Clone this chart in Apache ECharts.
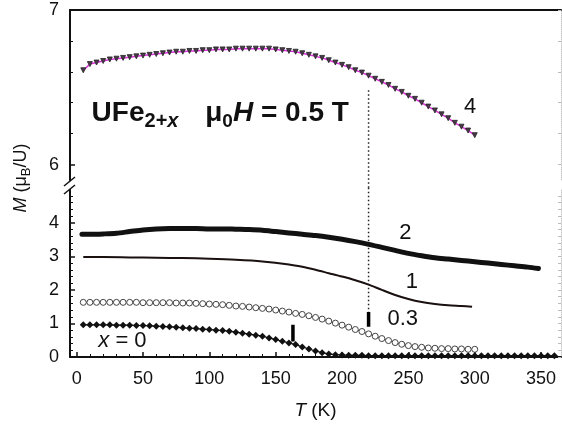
<!DOCTYPE html>
<html>
<head>
<meta charset="utf-8">
<script src="https://cdn.jsdelivr.net/npm/echarts@6/dist/echarts.min.js"></script>
<style>
  html, body { margin: 0; padding: 0; background: #fff; }
  #chart { width: 562px; height: 429px; }
</style>
</head>
<body>
<div id="chart"></div>
<script>
// Magnetization of UFe(2+x) at mu0H = 0.5 T versus temperature.

// Shared temperature grid (K) for x = 4 and x = 0.3
const tempA = [5, 10, 15, 20, 25, 30, 35, 40, 45, 50, 55, 60, 65, 70, 75, 80, 85, 90, 95, 100,
  105, 110, 115, 120, 125, 130, 135, 140, 145, 150, 155, 160, 165, 170, 175, 180, 185, 190, 195, 200,
  205, 210, 215, 220, 225, 230, 235, 240, 245, 250, 255, 260, 265, 270, 275, 280, 285, 290, 295, 300];

// x = 4 (upper panel), muB/U
const magX4 = [6.61, 6.65, 6.66, 6.67, 6.68, 6.685, 6.69, 6.695, 6.70, 6.705, 6.71, 6.715, 6.72, 6.725, 6.73, 6.73, 6.735, 6.735, 6.74, 6.74,
  6.745, 6.745, 6.745, 6.75, 6.75, 6.75, 6.75, 6.75, 6.75, 6.745, 6.74, 6.735, 6.73, 6.72, 6.71, 6.70, 6.69, 6.675, 6.66, 6.645,
  6.63, 6.61, 6.595, 6.575, 6.555, 6.535, 6.515, 6.49, 6.47, 6.445, 6.425, 6.40, 6.375, 6.35, 6.325, 6.30, 6.27, 6.245, 6.22, 6.19];

// x = 0.3
const magX03 = [1.63, 1.63, 1.63, 1.63, 1.63, 1.63, 1.63, 1.63, 1.63, 1.62, 1.62, 1.62, 1.62, 1.62, 1.61, 1.61, 1.61, 1.60, 1.59, 1.58,
  1.57, 1.56, 1.54, 1.52, 1.51, 1.49, 1.47, 1.45, 1.43, 1.40, 1.37, 1.34, 1.30, 1.27, 1.23, 1.18, 1.13, 1.07, 1.01, 0.95,
  0.89, 0.82, 0.76, 0.69, 0.62, 0.55, 0.49, 0.43, 0.38, 0.34, 0.31, 0.29, 0.27, 0.26, 0.25, 0.25, 0.24, 0.24, 0.23, 0.23];

// x = 0
const tempB = [5, 10, 15, 20, 25, 30, 35, 40, 45, 50, 55, 60, 65, 70, 75, 80, 85, 90, 95, 100,
  105, 110, 115, 120, 125, 130, 135, 140, 145, 150, 155, 160, 165, 170, 175, 180, 185, 190, 195, 200,
  205, 210, 215, 220, 225, 230, 235, 240, 245, 250, 255, 260, 265, 270, 275, 280, 285, 290, 295, 300,
  305, 310, 315, 320, 325, 330, 335, 340, 345, 350, 355, 360];
const magX0 = [0.96, 0.96, 0.96, 0.96, 0.96, 0.95, 0.95, 0.95, 0.94, 0.94, 0.93, 0.92, 0.91, 0.90, 0.89, 0.87, 0.86, 0.85, 0.83, 0.82,
  0.80, 0.79, 0.77, 0.74, 0.71, 0.68, 0.65, 0.62, 0.57, 0.52, 0.47, 0.42, 0.37, 0.30, 0.24, 0.18, 0.13, 0.09, 0.07, 0.06,
  0.05, 0.05, 0.05, 0.04, 0.04, 0.04, 0.04, 0.04, 0.04, 0.04, 0.04, 0.04, 0.04, 0.04, 0.04, 0.04, 0.04, 0.04, 0.04, 0.04,
  0.04, 0.04, 0.04, 0.04, 0.04, 0.04, 0.04, 0.04, 0.04, 0.04, 0.04, 0.04];

// x = 2
const temp2 = [4, 10, 20, 30, 40, 50, 60, 70, 80, 90, 100, 110, 120, 130, 140, 150, 160, 170, 180, 190,
  200, 210, 220, 230, 240, 250, 260, 270, 280, 290, 300, 310, 320, 330, 340, 348];
const magX2 = [3.66, 3.66, 3.67, 3.69, 3.74, 3.79, 3.82, 3.83, 3.83, 3.83, 3.82, 3.82, 3.81, 3.80, 3.78, 3.74, 3.70, 3.66, 3.62, 3.57,
  3.51, 3.44, 3.36, 3.27, 3.18, 3.09, 3.02, 2.96, 2.92, 2.88, 2.84, 2.80, 2.76, 2.72, 2.68, 2.64];

// x = 1
const temp1 = [5, 20, 40, 60, 80, 100, 120, 140, 160, 170, 180, 190, 200, 210, 220, 230, 240, 250, 260, 270, 280, 290, 298];
const magX1 = [2.98, 2.98, 2.97, 2.96, 2.95, 2.93, 2.90, 2.85, 2.76, 2.69, 2.60, 2.50, 2.40, 2.29, 2.16, 2.00, 1.85, 1.73, 1.64, 1.58, 1.54, 1.52, 1.50];

// Transition markers: short bars and the dotted guide at 220 K
const onsetT = [163, 220];
const onsetLow = [0.46, 0.90];
const onsetHigh = [0.96, 1.34];
const guideTop = 6.48;

// Tick values
const xMajor = [0, 50, 100, 150, 200, 250, 300, 350];
const xMinor = [10, 20, 30, 40, 60, 70, 80, 90, 110, 120, 130, 140, 160, 170, 180, 190, 210, 220, 230, 240,
  260, 270, 280, 290, 310, 320, 330, 340, 360];
const upMajor = [6, 7];
const upMinor = [6.2, 6.4, 6.6, 6.8];
const lowMajor = [0, 1, 2, 3, 4];
const lowMinor = [0.2, 0.4, 0.6, 0.8, 1.2, 1.4, 1.6, 1.8, 2.2, 2.4, 2.6, 2.8, 3.2, 3.4, 3.6, 3.8, 4.2, 4.4, 4.6, 4.8];

const pts = (t, m) => t.map((v, i) => [v, m[i]]);

const FONT = "'Liberation Sans', Arial, sans-serif";
const INK = '#111';

const chart = echarts.init(document.getElementById('chart'), null, { renderer: 'canvas' });

function tempAxis(grid, extra) {
  return Object.assign({
    type: 'value', gridIndex: grid, min: -5, max: 365,
    splitLine: { show: false },
    axisLine: { show: false, onZero: false },
    axisTick: { show: false },
    axisLabel: { show: false }
  }, extra);
}
function magAxis(grid, lo, hi, extra) {
  return Object.assign({
    type: 'value', gridIndex: grid, min: lo, max: hi,
    splitLine: { show: false },
    axisLine: { show: false, onZero: false },
    axisTick: { show: false },
    axisLabel: { show: false }
  }, extra);
}

const labelStyle = { fontFamily: FONT, fontSize: 18, color: INK };
const curveLabel = (coord, text) => ({
  coord: coord, value: text,
  label: {
    show: true, position: 'inside', formatter: text,
    fontFamily: FONT, fontSize: 22, color: INK,
    rich: { i: { fontFamily: FONT, fontSize: 22, fontStyle: 'italic', color: INK } }
  }
});
const labelPoint = (items) => ({
  symbol: 'circle', symbolSize: 1, silent: true,
  itemStyle: { color: 'rgba(0,0,0,0)' },
  data: items
});

const option = {
  animation: false,
  backgroundColor: '#fff',
  grid: [
    { left: 70, right: 1, top: 10, height: 170 },
    { left: 70, right: 1, top: 190, height: 167 }
  ],
  xAxis: [
    // lower panel: main temperature axis
    tempAxis(1, {
      position: 'bottom',
      axisLine: { show: true, onZero: false, lineStyle: { color: INK, width: 2 } },
      axisTick: { show: true, inside: true, length: 5, customValues: xMajor, lineStyle: { color: INK, width: 1.5 } },
      axisLabel: Object.assign({ show: true, margin: 13, customValues: xMajor }, labelStyle),
      name: '{i|T} (K)', nameLocation: 'middle', nameGap: 44,
      nameTextStyle: {
        fontFamily: FONT, fontSize: 19, color: INK,
        rich: { i: { fontFamily: FONT, fontSize: 19, fontStyle: 'italic', color: INK } }
      }
    }),
    // lower panel: minor ticks
    tempAxis(1, {
      position: 'bottom',
      axisTick: { show: true, inside: true, length: 3, customValues: xMinor, lineStyle: { color: INK, width: 1 } }
    }),
    // upper panel: top frame line
    tempAxis(0, {
      position: 'top',
      axisLine: { show: true, onZero: false, lineStyle: { color: INK, width: 2 } }
    })
  ],
  yAxis: [
    // 0: upper panel left
    magAxis(0, 5.9, 7, {
      position: 'left',
      axisLine: { show: true, onZero: false, lineStyle: { color: INK, width: 2 } },
      axisTick: { show: true, inside: true, length: 5, customValues: upMajor, lineStyle: { color: INK, width: 1.5 } },
      axisLabel: Object.assign({ show: true, margin: 11, customValues: upMajor }, labelStyle)
    }),
    // 1: upper panel minor ticks
    magAxis(0, 5.9, 7, {
      position: 'left',
      axisTick: { show: true, inside: true, length: 3, customValues: upMinor, lineStyle: { color: INK, width: 1 } }
    }),
    // 2: upper panel right frame
    magAxis(0, 5.9, 7, {
      position: 'right',
      axisLine: { show: true, onZero: false, lineStyle: { color: '#c8c8c8', width: 1, type: 'dotted' } },
      axisTick: { show: true, inside: true, length: 3, customValues: upMajor.concat(upMinor), lineStyle: { color: '#bbb', width: 1 } }
    }),
    // 3: lower panel left
    magAxis(1, 0, 4.98, {
      position: 'left',
      axisLine: { show: true, onZero: false, lineStyle: { color: INK, width: 2 } },
      axisTick: { show: true, inside: true, length: 5, customValues: lowMajor, lineStyle: { color: INK, width: 1.5 } },
      axisLabel: Object.assign({ show: true, margin: 11, customValues: lowMajor }, labelStyle)
    }),
    // 4: lower panel minor ticks
    magAxis(1, 0, 4.98, {
      position: 'left',
      axisTick: { show: true, inside: true, length: 3, customValues: lowMinor, lineStyle: { color: INK, width: 1 } }
    }),
    // 5: lower panel right frame
    magAxis(1, 0, 4.98, {
      position: 'right',
      axisLine: { show: true, onZero: false, lineStyle: { color: '#c8c8c8', width: 1, type: 'dotted' } },
      axisTick: { show: true, inside: true, length: 3, customValues: lowMajor.concat(lowMinor), lineStyle: { color: '#bbb', width: 1 } }
    })
  ],
  series: [
    // dotted guide at 220 K, running through both panels
    {
      type: 'line', xAxisIndex: 2, yAxisIndex: 0, clip: false, symbol: 'none', silent: true,
      data: [[onsetT[1], guideTop], [onsetT[1], 5.85]],
      lineStyle: { color: '#222', width: 1.5, type: [1.5, 2.5] }
    },
    {
      type: 'line', xAxisIndex: 0, yAxisIndex: 3, clip: false, symbol: 'none', silent: true,
      data: [[onsetT[1], 5.05], [onsetT[1], onsetHigh[1]]],
      lineStyle: { color: '#222', width: 1.5, type: [1.5, 2.5] }
    },
    // x = 4
    {
      name: 'x = 4', type: 'line', xAxisIndex: 2, yAxisIndex: 0,
      data: pts(tempA, magX4),
      symbol: 'triangle', symbolRotate: 180, symbolSize: 5,
      lineStyle: { color: '#dd33dd', width: 1.5 },
      itemStyle: { color: '#4a3a4a', borderColor: '#222', borderWidth: 0.8 },
      markPoint: labelPoint([
        curveLabel([296.5, 6.37], '4'),
        {
          coord: [44, 6.33], value: 't1',
          label: {
            show: true, position: 'inside', formatter: '{b|UFe}{s|2+}{si|x}',
            rich: {
              b: { fontFamily: FONT, fontSize: 28, fontWeight: 'bold', color: INK, lineHeight: 36, verticalAlign: 'middle' },
              s: { fontFamily: FONT, fontSize: 20, fontWeight: 'bold', color: INK, lineHeight: 19, verticalAlign: 'bottom' },
              si: { fontFamily: FONT, fontSize: 20, fontWeight: 'bold', fontStyle: 'italic', color: INK, lineHeight: 19, verticalAlign: 'bottom' }
            }
          }
        },
        {
          coord: [151, 6.33], value: 't2',
          label: {
            show: true, position: 'inside', formatter: '{b|μ}{s|0}{bi|H}{b| = 0.5 T}',
            rich: {
              b: { fontFamily: FONT, fontSize: 28, fontWeight: 'bold', color: INK, lineHeight: 36, verticalAlign: 'middle' },
              bi: { fontFamily: FONT, fontSize: 28, fontWeight: 'bold', fontStyle: 'italic', color: INK, lineHeight: 36, verticalAlign: 'middle' },
              s: { fontFamily: FONT, fontSize: 19, fontWeight: 'bold', color: INK, lineHeight: 19, verticalAlign: 'bottom' }
            }
          }
        }
      ])
    },
    // x = 2
    {
      name: 'x = 2', type: 'line', xAxisIndex: 0, yAxisIndex: 3,
      data: pts(temp2, magX2), symbol: 'none', smooth: 0.3,
      lineStyle: { color: '#111', width: 5, cap: 'round' },
      markPoint: labelPoint([curveLabel([247.7, 3.70], '2')])
    },
    // x = 1
    {
      name: 'x = 1', type: 'line', xAxisIndex: 0, yAxisIndex: 3,
      data: pts(temp1, magX1), symbol: 'none', smooth: 0.3,
      lineStyle: { color: '#1a1010', width: 2 },
      markPoint: labelPoint([curveLabel([252.6, 2.25], '1')])
    },
    // x = 0.3
    {
      name: 'x = 0.3', type: 'line', xAxisIndex: 0, yAxisIndex: 3,
      data: pts(tempA, magX03),
      symbol: 'circle', symbolSize: 6,
      lineStyle: { color: '#444', width: 1 },
      itemStyle: { color: '#fff', borderColor: '#444', borderWidth: 1 },
      markPoint: labelPoint([curveLabel([245.8, 1.13], '0.3')])
    },
    // x = 0
    {
      name: 'x = 0', type: 'line', xAxisIndex: 0, yAxisIndex: 3,
      data: pts(tempB, magX0),
      symbol: 'diamond', symbolSize: 7,
      lineStyle: { color: '#111', width: 1.2 },
      itemStyle: { color: '#111' },
      markPoint: labelPoint([curveLabel([34.5, 0.49], '{i|x} = 0')])
    },
    // transition bars
    {
      type: 'line', xAxisIndex: 0, yAxisIndex: 3, symbol: 'none', silent: true,
      data: [[onsetT[0], onsetLow[0]], [onsetT[0], onsetHigh[0]]],
      lineStyle: { color: '#000', width: 3.5 }
    },
    {
      type: 'line', xAxisIndex: 0, yAxisIndex: 3, symbol: 'none', silent: true,
      data: [[onsetT[1], onsetLow[1]], [onsetT[1], onsetHigh[1]]],
      lineStyle: { color: '#000', width: 3.5 }
    }
  ],
  graphic: [
    // axis break marks
    { type: 'line', shape: { x1: 64, y1: 186, x2: 75, y2: 177 }, style: { stroke: INK, lineWidth: 1.5 } },
    { type: 'line', shape: { x1: 64, y1: 194, x2: 75, y2: 185 }, style: { stroke: INK, lineWidth: 1.5 } },
    // y axis title
    {
      type: 'text', x: 21, y: 178, rotation: Math.PI / 2,
      style: {
        text: '{i|M} (μ{s|B}/U)',
        align: 'center', verticalAlign: 'middle',
        fontFamily: FONT, fontSize: 18, fill: INK,
        rich: {
          i: { fontFamily: FONT, fontSize: 18, fontStyle: 'italic', fill: INK, lineHeight: 24, verticalAlign: 'middle' },
          s: { fontFamily: FONT, fontSize: 13, fill: INK, lineHeight: 13, verticalAlign: 'bottom' }
        }
      }
    }
  ]
};

chart.setOption(option);
</script>
</body>
</html>
